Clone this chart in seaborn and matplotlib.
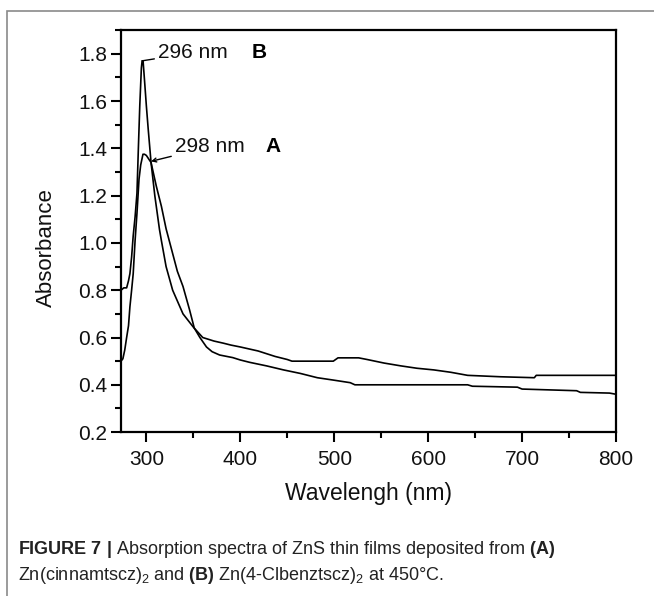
import matplotlib
matplotlib.use("Agg")
import matplotlib.pyplot as plt
import pandas as pd
import seaborn as sns
from matplotlib.patches import Rectangle
from matplotlib.ticker import MultipleLocator

# spectrum A, Zn(cinnamtscz)2 film (peak 298 nm)
wl_a = [273, 275, 277, 279, 281, 282.5, 284.3, 286, 288, 290, 292.2, 294, 296.4, 298,
        300, 305, 310.6, 316, 321, 327, 333, 339, 346, 351, 357, 364, 370, 378, 392,
        400, 410, 428, 446, 464, 482, 499, 517, 522, 642, 647, 695, 700, 758, 762,
        793, 800]
abs_a = [0.50, 0.51, 0.547, 0.60, 0.65, 0.73, 0.80, 0.87, 1.01, 1.125, 1.27, 1.33, 1.375, 1.375,
         1.37, 1.34, 1.24, 1.155, 1.06, 0.97, 0.88, 0.816, 0.717, 0.64, 0.60, 0.56, 0.54, 0.526, 0.515,
         0.505, 0.495, 0.48, 0.463, 0.448, 0.43, 0.42, 0.409, 0.40, 0.40, 0.394, 0.39, 0.382, 0.375, 0.368,
         0.365, 0.36]

# spectrum B, Zn(4-Clbenztscz)2 film (peak 296 nm)
wl_b = [273, 276, 279, 281, 282.5, 284.3, 286, 288, 290, 291.5, 293, 294.7, 295.5, 296.5,
        298, 300, 302, 305, 309, 314, 316, 321, 328, 339, 350, 360, 372, 382, 390, 400,
        419, 437, 450, 455, 499, 504, 526, 535, 553, 571, 588, 606, 624, 642, 677, 713,
        715, 800]
abs_b = [0.80, 0.81, 0.81, 0.84, 0.87, 0.94, 1.03, 1.11, 1.21, 1.40, 1.58, 1.74, 1.77, 1.77,
         1.69, 1.58, 1.48, 1.34, 1.20, 1.056, 1.01, 0.90, 0.80, 0.70, 0.644, 0.60, 0.585, 0.576, 0.568, 0.56,
         0.543, 0.52, 0.507, 0.50, 0.50, 0.514, 0.514, 0.507, 0.492, 0.48, 0.47, 0.463, 0.453, 0.44, 0.434, 0.43,
         0.44, 0.44]

x_ticks = [300, 400, 500, 600, 700, 800]
y_ticks = [0.2, 0.4, 0.6, 0.8, 1.0, 1.2, 1.4, 1.6, 1.8]

sns.set_style("ticks")
plt.rcParams["font.family"] = ["Liberation Sans", "DejaVu Sans"]
plt.rcParams["mathtext.fontset"] = "custom"
plt.rcParams["mathtext.rm"] = "Liberation Sans"
plt.rcParams["mathtext.bf"] = "Liberation Sans:bold"
plt.rcParams["mathtext.it"] = "Liberation Sans:italic"

spec_a = pd.DataFrame({"wavelength": wl_a, "absorbance": abs_a})
spec_b = pd.DataFrame({"wavelength": wl_b, "absorbance": abs_b})

fig = plt.figure(figsize=(6.54, 5.96), dpi=100)
ax = fig.add_axes([0.185, 0.275, 0.757, 0.6745])

for frame in (spec_a, spec_b):
    sns.lineplot(data=frame, x="wavelength", y="absorbance", ax=ax, color="black",
                 linewidth=1.2, sort=False, estimator=None)

ax.set_xlim(273, 800)
ax.set_ylim(0.2, 1.9)
ax.set_xticks(x_ticks)
ax.set_yticks(y_ticks)
ax.set_yticklabels([f"{v:.1f}" for v in y_ticks])
ax.xaxis.set_minor_locator(MultipleLocator(50))
ax.yaxis.set_minor_locator(MultipleLocator(0.1))
ax.tick_params(axis="both", which="major", direction="out", length=7, width=1.5, color="black")
ax.tick_params(axis="both", which="minor", direction="out", length=4, width=1.5, color="black")
ax.tick_params(axis="x", labelsize=15, labelcolor="#111111", pad=6)
ax.tick_params(axis="y", labelsize=15, labelcolor="#111111", pad=3)
for side in ("left", "right", "top", "bottom"):
    ax.spines[side].set_visible(True)
    ax.spines[side].set_linewidth(1.6)
    ax.spines[side].set_color("black")

ax.set_xlabel("Wavelengh (nm)", fontsize=16.5, color="#111111", labelpad=9)
ax.set_ylabel("Absorbance", fontsize=16, color="#111111", labelpad=4)
ax.yaxis.set_label_coords(-0.13, 0.46)

# peak labels
ax.annotate("296 nm", xy=(295.5, 1.77), xytext=(312, 1.804), fontsize=15, va="center",
            color="#111111", arrowprops=dict(arrowstyle="-", color="black", lw=1.0, shrinkA=0, shrinkB=0))
ax.text(412, 1.804, "B", fontsize=15, fontweight="bold", va="center", color="black")
ax.annotate("298 nm", xy=(305, 1.345), xytext=(330, 1.406), fontsize=15, va="center",
            color="#111111", arrowprops=dict(arrowstyle="->", color="black", lw=1.0,
                                             shrinkA=0, shrinkB=0, mutation_scale=7))
ax.text(427, 1.406, "A", fontsize=15, fontweight="bold", va="center", color="black")

# panel frame and caption
fig.patches.append(Rectangle((7 / 654, -0.1), 1.2, 1 - 11 / 596 + 0.1, transform=fig.transFigure,
                             fill=False, edgecolor="#8a8a8a", linewidth=1.2))
fig.text(18 / 654, 1 - 550 / 596,
         r"$\mathbf{FIGURE\ 7\ |}$ Absorption spectra of ZnS thin films deposited from $\mathbf{(A)}$",
         fontsize=13, color="#222222", va="center")
fig.text(18 / 654, 1 - 575 / 596,
         r"Zn(cinnamtscz)$_2$ and $\mathbf{(B)}$ Zn(4-Clbenztscz)$_2$ at 450°C.",
         fontsize=13, color="#222222", va="center")

fig.savefig("out.png", dpi=100)
